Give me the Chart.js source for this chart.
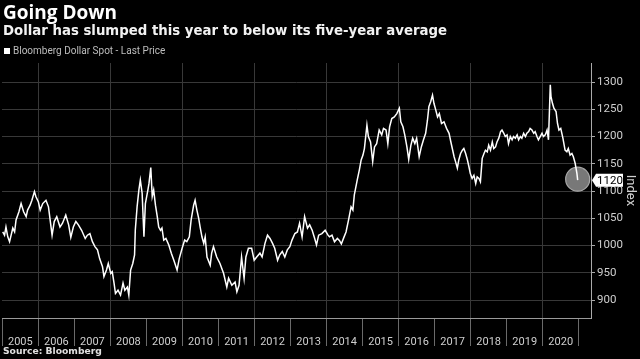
<!DOCTYPE html>
<html>
<head>
<meta charset="utf-8">
<script src="https://cdn.jsdelivr.net/npm/chart.js@4.4.1/dist/chart.umd.min.js"></script>
<style>
  html, body { margin:0; padding:0; background:#000; }
  #wrap { position:relative; width:640px; height:359px; background:#000; overflow:hidden; }
  canvas { position:absolute; left:0; top:0; }
  .t { position:absolute; white-space:nowrap; }
  #title { left:3px; top:-1px; font:bold 19px "Open Sans", sans-serif; color:#fff; }
  #subtitle { left:3px; top:23px; font:bold 13.3px "DejaVu Sans", sans-serif; color:#f2f2f2; }
  #legend { left:4px; top:45px; font:10px Roboto, sans-serif; color:#bdbdbd; }
  #legend span.sw { display:inline-block; width:6px; height:6px; background:#fff; margin-right:3px; vertical-align:0px; }
  #source { left:3px; top:345px; font:bold 9.2px "DejaVu Sans", sans-serif; color:#e0e0e0; }
</style>
</head>
<body>
<div id="wrap">
  <canvas id="c" width="640" height="359"></canvas>
  <div class="t" id="title">Going Down</div>
  <div class="t" id="subtitle">Dollar has slumped this year to below its five-year average</div>
  <div class="t" id="legend"><span class="sw"></span>Bloomberg Dollar Spot - Last Price</div>
  <div class="t" id="source">Source: Bloomberg</div>
</div>
<script>
const seriesName = "Bloomberg Dollar Spot - Last Price";
const yearTicks = [2005,2006,2007,2008,2009,2010,2011,2012,2013,2014,2015,2016,2017,2018,2019,2020,2021];
const valueTicks = [900,950,1000,1050,1100,1150,1200,1250,1300];
const lastPrice = 1120;
const dates = [
2005.01,2005.06,2005.10,2005.15,2005.20,2005.29,2005.34,2005.38,2005.46,2005.52,2005.59,2005.66,2005.70,2005.77,2005.82,2005.89,2005.93,
2006.00,2006.05,2006.12,2006.21,2006.28,2006.38,2006.44,2006.51,2006.60,2006.67,2006.76,2006.84,2006.90,2006.97,
2007.04,2007.11,2007.20,2007.30,2007.36,2007.43,2007.50,2007.57,2007.64,2007.70,2007.78,2007.82,2007.89,2007.94,
2008.01,2008.05,2008.10,2008.14,2008.21,2008.28,2008.35,2008.40,2008.47,2008.51,2008.56,2008.62,2008.67,2008.69,2008.74,2008.79,2008.83,2008.88,2008.93,2008.97,
2009.04,2009.07,2009.12,2009.16,2009.20,2009.25,2009.30,2009.34,2009.39,2009.43,2009.48,2009.54,2009.62,2009.69,2009.76,2009.85,2009.91,2009.99,
2010.06,2010.12,2010.19,2010.24,2010.31,2010.35,2010.40,2010.45,2010.49,2010.54,2010.59,2010.63,2010.68,2010.77,2010.81,2010.86,2010.95,
2011.04,2011.14,2011.23,2011.28,2011.37,2011.46,2011.51,2011.57,2011.64,2011.71,2011.76,2011.83,2011.92,2011.99,
2012.06,2012.15,2012.21,2012.29,2012.36,2012.43,2012.50,2012.56,2012.64,2012.70,2012.77,2012.84,2012.91,2012.98,
2013.04,2013.12,2013.19,2013.25,2013.32,2013.39,2013.47,2013.53,2013.60,2013.67,2013.72,2013.78,2013.87,2013.96,
2014.04,2014.08,2014.15,2014.22,2014.30,2014.36,2014.41,2014.48,2014.54,2014.61,2014.68,2014.73,2014.77,2014.85,2014.91,2014.96,
2015.01,2015.05,2015.12,2015.16,2015.22,2015.28,2015.33,2015.39,2015.46,2015.53,2015.58,2015.65,2015.70,2015.75,2015.81,2015.88,2015.95,
2016.02,2016.06,2016.12,2016.17,2016.23,2016.28,2016.34,2016.39,2016.45,2016.50,2016.57,2016.63,2016.69,2016.75,2016.80,2016.84,2016.89,2016.94,2016.98,
2017.03,2017.08,2017.13,2017.19,2017.26,2017.33,2017.40,2017.45,2017.54,2017.58,2017.63,2017.67,2017.72,2017.77,2017.81,2017.86,2017.91,2017.95,2017.99,
2018.04,2018.09,2018.14,2018.18,2018.23,2018.27,2018.32,2018.37,2018.41,2018.46,2018.50,2018.55,2018.60,2018.64,2018.69,2018.73,2018.78,2018.83,2018.87,2018.92,2018.96,
2019.01,2019.05,2019.10,2019.15,2019.19,2019.24,2019.29,2019.33,2019.38,2019.42,2019.47,2019.52,2019.56,2019.61,2019.65,2019.70,2019.75,2019.79,2019.84,2019.88,2019.93,2019.98,
2020.02,2020.07,2020.12,2020.16,2020.21,2020.23,2020.27,2020.31,2020.37,2020.41,2020.45,2020.50,2020.56,2020.62,2020.67,2020.71,2020.76,2020.81,2020.85,2020.90,2020.95,2020.97
];
const values = [
1025,1019,1034,1016,1007,1032,1025,1047,1062,1077,1062,1053,1065,1074,1083,1099,1090,
1080,1065,1077,1083,1071,1019,1044,1053,1034,1041,1056,1038,1015,1034,
1044,1038,1028,1013,1019,1022,1007,998,992,976,961,943,955,967,
949,952,931,912,918,909,931,918,924,909,955,967,983,1028,1071,1102,1120,1096,1016,1077,
1102,1114,1143,1090,1102,1074,1053,1034,1028,1032,1010,1013,1001,986,973,955,976,995,
1010,1007,1016,1047,1074,1083,1065,1050,1034,1016,1004,1016,979,964,986,998,979,
967,949,924,940,927,933,915,927,979,940,979,995,995,973,
979,986,979,1004,1019,1013,1004,995,973,983,989,979,992,998,
1010,1022,1025,1041,1016,1053,1032,1038,1028,1013,1001,1019,1022,1028,
1019,1016,1019,1007,1013,1009,1003,1015,1025,1047,1071,1065,1093,1120,1139,1157,
1166,1178,1221,1200,1190,1154,1181,1187,1212,1203,1215,1212,1187,1218,1233,1236,1242,
1252,1227,1218,1203,1181,1158,1184,1197,1187,1197,1163,1181,1194,1206,1230,1255,1264,1276,1261,
1249,1236,1242,1224,1227,1215,1206,1190,1163,1154,1142,1157,1169,1175,1178,1169,1157,1145,1132,
1123,1129,1114,1126,1123,1117,1160,1169,1175,1172,1184,1175,1190,1178,1181,1190,1197,1209,1212,1206,1200,
1203,1187,1200,1194,1200,1197,1203,1194,1200,1197,1206,1200,1206,1209,1215,1212,1206,1209,1200,1194,1200,1206,
1200,1203,1212,1194,1295,1273,1261,1252,1246,1224,1212,1215,1197,1175,1172,1178,1166,1169,1163,1151,1132,1120
];

const endMarker = {
  id: 'endMarker',
  beforeDatasetsDraw(chart) {
    const meta = chart.getDatasetMeta(0);
    const p = meta.data[meta.data.length - 1];
    const ctx = chart.ctx;
    ctx.save();
    ctx.beginPath();
    ctx.arc(p.x, p.y - 1, 12, 0, Math.PI * 2);
    ctx.fillStyle = '#787878';
    ctx.fill();
    ctx.lineWidth = 1.2;
    ctx.strokeStyle = '#a8a8a8';
    ctx.stroke();
    ctx.restore();
  },
  afterDraw(chart) {
    const ys = chart.scales.y;
    const ctx = chart.ctx;
    const y = ys.getPixelForValue(lastPrice);
    const x0 = ys.left + 1;
    ctx.save();
    ctx.beginPath();
    ctx.moveTo(x0, y);
    ctx.lineTo(x0 + 4, y - 6.5);
    ctx.lineTo(x0 + 31, y - 6.5);
    ctx.lineTo(x0 + 31, y + 6.5);
    ctx.lineTo(x0 + 4, y + 6.5);
    ctx.closePath();
    ctx.fillStyle = '#ffffff';
    ctx.fill();
    ctx.fillStyle = '#000';
    ctx.font = '11.5px Roboto, sans-serif';
    ctx.textBaseline = 'middle';
    ctx.textAlign = 'left';
    ctx.fillText(String(lastPrice), x0 + 5, y + 0.5);
    ctx.restore();
  }
};

new Chart(document.getElementById('c'), {
  type: 'line',
  data: {
    datasets: [{
      label: seriesName,
      data: dates.map((d, i) => ({ x: d, y: values[i] })),
      borderColor: '#ffffff',
      borderWidth: 1.5,
      pointRadius: 0,
      tension: 0,
      fill: false
    }]
  },
  options: {
    responsive: false,
    animation: false,
    devicePixelRatio: 1,
    layout: { padding: { top: 63, left: 0, right: 0, bottom: 0 } },
    plugins: { legend: { display: false }, tooltip: { enabled: false }, title: { display: false } },
    scales: {
      x: {
        type: 'linear',
        min: 2004.99,
        max: 2021.34,
        afterBuildTicks: s => { s.ticks = yearTicks.map(v => ({ value: v })); },
        afterFit: s => { s.height = 41; },
        grid: {
          color: c => (c.tick && c.tick.value % 2 === 0 && c.tick.value < 2021) ? '#383838' : 'rgba(0,0,0,0)',
          tickColor: '#6a6a6a',
          tickLength: 28,
          lineWidth: 1
        },
        border: { color: '#9a9a9a', width: 1 },
        ticks: {
          autoSkip: false,
          maxRotation: 0,
          labelOffset: 18,
          padding: -10,
          color: '#cfcfcf',
          font: { family: 'Roboto', size: 11 },
          callback: v => (v < 2021 ? String(v) : '')
        }
      },
      y: {
        position: 'right',
        min: 867,
        max: 1335,
        afterBuildTicks: s => { s.ticks = valueTicks.map(v => ({ value: v })); },
        afterFit: s => { s.width = 49; },
        grid: { color: '#383838', tickColor: '#aaaaaa', tickLength: 4, lineWidth: 1 },
        border: { color: '#aaaaaa', width: 1 },
        ticks: { color: '#cfcfcf', padding: 2, font: { family: 'Roboto', size: 11.5 }, callback: v => String(v) },
        title: { display: true, text: 'Index', color: '#cfcfcf', font: { family: 'Roboto', size: 13 }, padding: { top: 2, bottom: 2 } }
      }
    }
  },
  plugins: [endMarker]
});
</script>
</body>
</html>
